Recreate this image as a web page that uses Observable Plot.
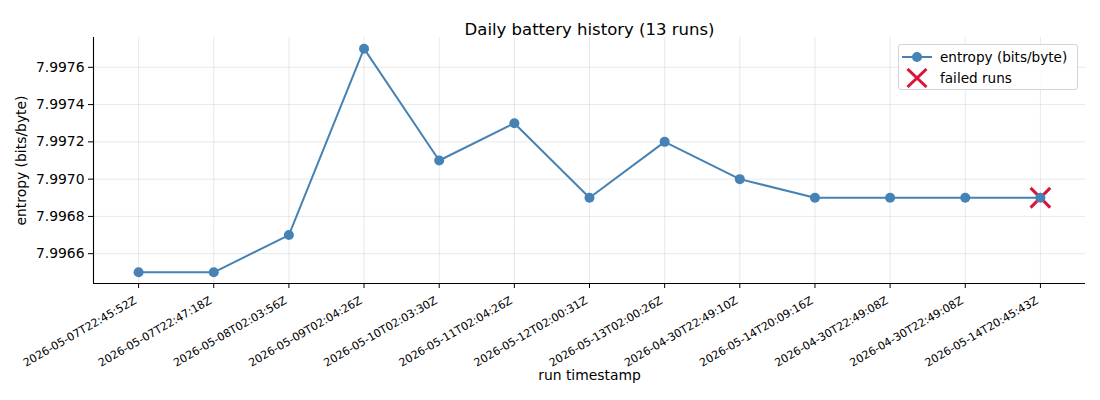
<!DOCTYPE html>
<html>
<head>
<meta charset="utf-8">
<script src="https://cdn.jsdelivr.net/npm/d3@7"></script>
<script src="https://cdn.jsdelivr.net/npm/@observablehq/plot@0.6"></script>
<style>
  body { margin: 0; background: #fff; font-family: "DejaVu Sans", sans-serif; }
  #wrap { position: relative; width: 1100px; height: 400px; }
  #legend {
    position: absolute; left: 898px; top: 44px; width: 178px; height: 44px;
    border: 1px solid #d5d5d5; border-radius: 3px; background: rgba(255,255,255,0.85);
    font-size: 13.6px; color: #000;
  }
  .row { position: absolute; left: 0; height: 20px; display: flex; align-items: center; }
  .row svg { margin-left: 3px; }
  .row span { margin-left: 8px; }
</style>
</head>
<body>
<div id="wrap"></div>
<script>
const labels = [
  "2026-05-07T22:45:52Z",
  "2026-05-07T22:47:18Z",
  "2026-05-08T02:03:56Z",
  "2026-05-09T02:04:26Z",
  "2026-05-10T02:03:30Z",
  "2026-05-11T02:04:26Z",
  "2026-05-12T02:00:31Z",
  "2026-05-13T02:00:26Z",
  "2026-04-30T22:49:10Z",
  "2026-05-14T20:09:16Z",
  "2026-04-30T22:49:08Z",
  "2026-04-30T22:49:08Z",
  "2026-05-14T20:45:43Z"
];
const entropy = [7.9965, 7.9965, 7.9967, 7.9977, 7.9971, 7.9973, 7.9969, 7.9972, 7.9970, 7.9969, 7.9969, 7.9969, 7.9969];
const failed = [false, false, false, false, false, false, false, false, false, false, false, false, true];
const yTicks = [7.9966, 7.9968, 7.9970, 7.9972, 7.9974, 7.9976];

const data = labels.map((label, i) => ({i, label, entropy: entropy[i], failed: failed[i]}));
const idx = data.map(d => d.i);
const xDomain = [-0.6, labels.length - 1 + 0.6];
const yDomain = [7.99644, 7.99776];
const blue = "#4682b4";
const red = "#dc143c";

const chart = Plot.plot({
  width: 1100,
  height: 400,
  marginLeft: 93,
  marginRight: 15,
  marginTop: 37,
  marginBottom: 117,
  style: {fontFamily: "DejaVu Sans, sans-serif", background: "#fff", color: "#000", overflow: "visible"},
  x: {type: "linear", domain: xDomain},
  y: {domain: yDomain},
  marks: [
    Plot.gridX(idx, {stroke: "#b0b0b0", strokeOpacity: 0.35, strokeWidth: 0.8}),
    Plot.gridY(yTicks, {stroke: "#b0b0b0", strokeOpacity: 0.35, strokeWidth: 0.8}),
    Plot.dot(data.filter(d => d.failed), {x: "i", y: "entropy", symbol: "times", r: 9, stroke: red, strokeWidth: 3}),
    Plot.line(data, {x: "i", y: "entropy", stroke: blue, strokeWidth: 2}),
    Plot.dot(data, {x: "i", y: "entropy", r: 5, fill: blue, stroke: "none"}),
    Plot.ruleX([xDomain[0]], {stroke: "#000", strokeWidth: 1.1}),
    Plot.ruleY([yDomain[0]], {stroke: "#000", strokeWidth: 1.1}),
    Plot.axisX(idx, {tickFormat: () => "", tickSize: 5, label: null}),
    Plot.text(data, {x: "i", y: () => yDomain[0], text: "label", rotate: -30, textAnchor: "end", lineAnchor: "middle", dx: -3, dy: 16, fontSize: 11.1, fill: "#000"}),
    Plot.axisY(yTicks, {tickFormat: d3.format(".4f"), fontSize: 13.9, tickSize: 5, tickPadding: 4, label: null}),
    Plot.text(["Daily battery history (13 runs)"], {frameAnchor: "top", dy: -14, fontSize: 16.5, fill: "#000"}),
    Plot.text(["run timestamp"], {frameAnchor: "bottom", dy: 96, fontSize: 13.9, fill: "#000"}),
    Plot.text(["entropy (bits/byte)"], {frameAnchor: "left", textAnchor: "middle", dx: -72, rotate: -90, fontSize: 13.9, fill: "#000"})
  ]
});

const wrap = document.getElementById("wrap");
wrap.appendChild(chart);

const legend = document.createElement("div");
legend.id = "legend";
legend.innerHTML = `
  <div class="row" style="top:2px">
    <svg width="30" height="20"><line x1="0" y1="10" x2="30" y2="10" stroke="${blue}" stroke-width="2"/><circle cx="15" cy="10" r="5" fill="${blue}"/></svg>
    <span>entropy (bits/byte)</span>
  </div>
  <div class="row" style="top:23px">
    <svg width="30" height="20"><path d="M5.5,1 L24.5,19 M24.5,1 L5.5,19" stroke="${red}" stroke-width="3"/></svg>
    <span>failed runs</span>
  </div>`;
wrap.appendChild(legend);
</script>
</body>
</html>
